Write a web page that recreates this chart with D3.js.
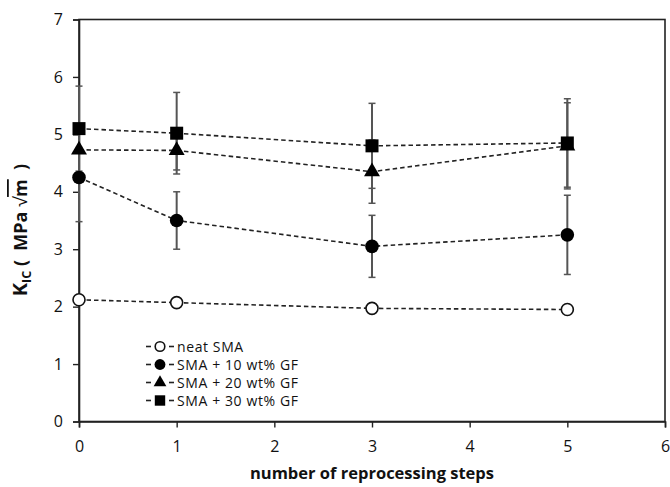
<!DOCTYPE html>
<html>
<head>
<meta charset="utf-8">
<script src="https://cdn.jsdelivr.net/npm/d3@7"></script>
<style>
  html, body { margin: 0; padding: 0; background: #fff; }
  svg { display: block; }
  text { font-family: "Open Sans", "Noto Sans", sans-serif; fill: #111; }
</style>
</head>
<body>
<svg id="chart" width="670" height="487"></svg>
<script>
// ---- data ----
const steps = [0, 1, 3, 5];
const seriesNames = ["neat SMA", "SMA + 10 wt% GF", "SMA + 20 wt% GF", "SMA + 30 wt% GF"];
const seriesSymbols = ["circleOpen", "circle", "triangle", "square"];
const neatSMA = [2.12, 2.07, 1.97, 1.95];
const neatSMAErr = [0, 0, 0, 0];
const gf10 = [4.25, 3.50, 3.05, 3.25];
const gf10Err = [0.77, 0.50, 0.54, 0.69];
const gf20 = [4.73, 4.72, 4.35, 4.80];
const gf20Err = [0.40, 0.34, 0.55, 0.75];
const gf30 = [5.10, 5.02, 4.80, 4.85];
const gf30Err = [0.74, 0.71, 0.74, 0.77];
const xTicks = [0, 1, 2, 3, 4, 5, 6];
const yTicks = [0, 1, 2, 3, 4, 5, 6, 7];
const xTitle = "number of reprocessing steps";

const seriesValues = [neatSMA, gf10, gf20, gf30];
const seriesErrors = [neatSMAErr, gf10Err, gf20Err, gf30Err];

// ---- layout ----
const svg = d3.select("#chart");
const pLeft = 79, pRight = 665, pTop = 19.5, pBottom = 421.5;
const x = d3.scaleLinear().domain([0, 6]).range([pLeft, pRight]);
const y = d3.scaleLinear().domain([0, 7]).range([pBottom, pTop]);

// frame
svg.append("rect")
  .attr("x", pLeft).attr("y", pTop)
  .attr("width", pRight - pLeft).attr("height", pBottom - pTop)
  .attr("fill", "none").attr("stroke", "#222").attr("stroke-width", 1.6);

// axes
const xAxis = svg.append("g").attr("transform", `translate(0,${pBottom})`)
  .call(d3.axisBottom(x).tickValues(xTicks).tickFormat(d3.format("d")).tickSize(6).tickPadding(13));
const yAxis = svg.append("g").attr("transform", `translate(${pLeft},0)`)
  .call(d3.axisLeft(y).tickValues(yTicks).tickFormat(d3.format("d")).tickSize(6).tickPadding(10));
[xAxis, yAxis].forEach(a => {
  a.select(".domain").attr("stroke", "#222").attr("stroke-width", 1.6);
  a.selectAll(".tick line").attr("stroke", "#222").attr("stroke-width", 1.4);
  a.selectAll(".tick text").attr("font-size", 16).attr("fill", "#111")
    .style("font-family", '"Open Sans", sans-serif');
});

// error bars
const capW = 3.5;
seriesValues.forEach((vals, si) => {
  const g = svg.append("g").attr("class", "err");
  vals.forEach((v, i) => {
    const e = seriesErrors[si][i];
    if (!e) return;
    const cx = x(steps[i]);
    const y1 = y(v + e), y2 = y(v - e);
    g.append("line").attr("x1", cx).attr("x2", cx).attr("y1", y1).attr("y2", y2)
      .attr("stroke", "#555").attr("stroke-width", 2);
    [y1, y2].forEach(yy => g.append("line")
      .attr("x1", cx - capW).attr("x2", cx + capW).attr("y1", yy).attr("y2", yy)
      .attr("stroke", "#555").attr("stroke-width", 1.5));
  });
});

// dashed lines
const line = d3.line().x((d, i) => x(steps[i])).y(d => y(d));
seriesValues.forEach(vals => {
  svg.append("path").datum(vals).attr("d", line)
    .attr("fill", "none").attr("stroke", "#222").attr("stroke-width", 1.6)
    .attr("stroke-dasharray", "4.5,3");
});

// markers
function drawMarker(g, type, cx, cy, s) {
  if (type === "circleOpen") {
    g.append("circle").attr("cx", cx).attr("cy", cy).attr("r", 6*s)
      .attr("fill", "#fff").attr("stroke", "#111").attr("stroke-width", 1.6);
  } else if (type === "circle") {
    g.append("circle").attr("cx", cx).attr("cy", cy).attr("r", 6.8*s).attr("fill", "#000");
  } else if (type === "triangle") {
    g.append("path").attr("d", d3.symbol().type(d3.symbolTriangle).size(110*s*s)())
      .attr("transform", `translate(${cx},${cy})`).attr("fill", "#000");
  } else if (type === "square") {
    const h = 6.5*s;
    g.append("rect").attr("x", cx - h).attr("y", cy - h).attr("width", 2*h).attr("height", 2*h)
      .attr("fill", "#000");
  }
}
seriesValues.forEach((vals, si) => {
  const g = svg.append("g");
  vals.forEach((v, i) => drawMarker(g, seriesSymbols[si], x(steps[i]), y(v), 1));
});

// legend
const legY = [346.5, 364.5, 382.5, 400.5];
seriesNames.forEach((name, i) => {
  const g = svg.append("g");
  const cy = legY[i];
  g.append("line").attr("x1", 146).attr("x2", 151).attr("y1", cy).attr("y2", cy)
    .attr("stroke", "#222").attr("stroke-width", 1.6);
  g.append("line").attr("x1", 169).attr("x2", 174).attr("y1", cy).attr("y2", cy)
    .attr("stroke", "#222").attr("stroke-width", 1.6);
  drawMarker(g, seriesSymbols[i], 160, cy, 0.8);
  g.append("text").attr("x", 177).attr("y", cy).attr("dy", "0.36em")
    .attr("font-size", 14).attr("letter-spacing", 0.6).text(name);
});

// x-axis title
svg.append("text").attr("x", 372).attr("y", 479).attr("text-anchor", "middle")
  .attr("font-size", 16.5).attr("font-weight", "bold").text(xTitle);

// y-axis title
const yt = svg.append("text").attr("transform", "translate(27,230) rotate(-90)")
  .attr("text-anchor", "middle").attr("font-size", 18).attr("font-weight", "bold");
yt.append("tspan").attr("font-size", 20).text("K");
yt.append("tspan").attr("font-size", 12.5).attr("dy", 4).text("IC");
yt.append("tspan").attr("dy", -4).text("\u00a0(\u00a0\u00a0MPa\u00a0");
yt.append("tspan").attr("font-weight", "normal").text("\u221a");
yt.append("tspan").style("text-decoration", "overline").text("m");
yt.append("tspan").text("\u00a0\u00a0)");
</script>
</body>
</html>
